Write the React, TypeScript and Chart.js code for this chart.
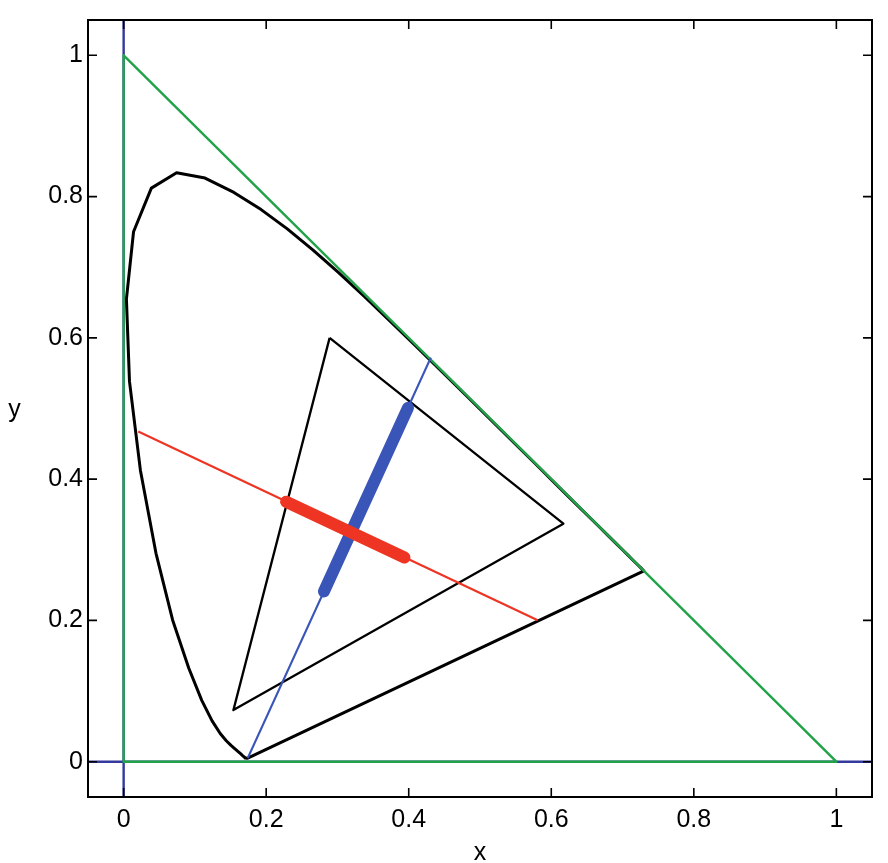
import React, { useEffect, useRef } from "react";
import { Chart, registerables } from "chart.js";

Chart.register(...registerables);

// Axis ticks and range
const TICKS = [0, 0.2, 0.4, 0.6, 0.8, 1];
const AXIS_MIN = -0.05;
const AXIS_MAX = 1.05;

// CIE 1931 spectral locus (380..660 nm, 5 nm steps), closed by the line of purples
const LOCUS_X = [
  0.1741, 0.174, 0.1738, 0.1736, 0.1733, 0.173, 0.1726, 0.1721, 0.1714, 0.1703,
  0.1689, 0.1669, 0.1644, 0.1611, 0.1566, 0.151, 0.144, 0.1355, 0.1241, 0.1096,
  0.0913, 0.0687, 0.0454, 0.0235, 0.0082, 0.0039, 0.0139, 0.0389, 0.0743, 0.1142,
  0.1547, 0.1929, 0.2296, 0.2658, 0.3016, 0.3373, 0.3731, 0.4087, 0.4441, 0.4788,
  0.5125, 0.5448, 0.5752, 0.6029, 0.627, 0.6482, 0.6658, 0.6801, 0.6915, 0.7006,
  0.7079, 0.714, 0.719, 0.723, 0.726, 0.7283, 0.73, 0.1741,
];
const LOCUS_Y = [
  0.005, 0.005, 0.0049, 0.0049, 0.0048, 0.0048, 0.0048, 0.0048, 0.0051, 0.0058,
  0.0069, 0.0086, 0.0109, 0.0138, 0.0177, 0.0227, 0.0297, 0.0399, 0.0578, 0.0868,
  0.1327, 0.2007, 0.295, 0.4127, 0.5384, 0.6548, 0.7502, 0.812, 0.8338, 0.8262,
  0.8059, 0.7816, 0.7543, 0.7243, 0.6923, 0.6589, 0.6245, 0.5896, 0.5547, 0.5202,
  0.4866, 0.4544, 0.4242, 0.3965, 0.3725, 0.3514, 0.334, 0.3197, 0.3083, 0.2993,
  0.292, 0.2859, 0.2809, 0.277, 0.274, 0.2717, 0.27, 0.005,
];

// Green triangle (x + y <= 1)
const GREEN_X = [0, 1, 0, 0];
const GREEN_Y = [0, 0, 1, 0];

// Blue coordinate axes lines
const HAXIS_X = [AXIS_MIN, AXIS_MAX];
const HAXIS_Y = [0, 0];
const VAXIS_X = [0, 0];
const VAXIS_Y = [AXIS_MIN, AXIS_MAX];

// Black gamut triangle
const GAMUT_X = [0.289, 0.617, 0.154, 0.289];
const GAMUT_Y = [0.6, 0.337, 0.073, 0.6];

// Red line and its thick segment
const RED_X = [0.0205, 0.581];
const RED_Y = [0.4675, 0.2003];
const RED_THICK_X = [0.228, 0.394];
const RED_THICK_Y = [0.368, 0.289];

// Blue line and its thick segment
const BLUE_X = [0.1741, 0.431];
const BLUE_Y = [0.005, 0.572];
const BLUE_THICK_X = [0.281, 0.399];
const BLUE_THICK_Y = [0.241, 0.501];

const COLORS = {
  axisBlue: "#34399e",
  green: "#22a34a",
  blue: "#3a55b8",
  red: "#ee3524",
  black: "#000000",
};

const FONT_FAMILY = "'Liberation Sans', Arial, Helvetica, sans-serif";

const pts = (xs: number[], ys: number[]) => xs.map((x, i) => ({ x, y: ys[i] }));

const line = (
  xs: number[],
  ys: number[],
  color: string,
  width: number,
  order: number,
  cap: CanvasLineCap = "butt"
) => ({
  data: pts(xs, ys),
  showLine: true,
  borderColor: color,
  backgroundColor: color,
  borderWidth: width,
  pointRadius: 0,
  pointHoverRadius: 0,
  tension: 0,
  fill: false,
  borderCapStyle: cap,
  borderJoinStyle: "round" as CanvasLineJoin,
  order,
});

const framePlugin = {
  id: "matlabFrame",
  afterDraw(chart: any) {
    const { ctx, chartArea: a, scales } = chart;
    ctx.save();
    ctx.strokeStyle = "#000";
    ctx.lineWidth = 2;
    ctx.strokeRect(a.left, a.top, a.right - a.left, a.bottom - a.top);
    ctx.lineWidth = 1.6;
    const L = 9;
    for (const v of TICKS) {
      const px = scales.x.getPixelForValue(v);
      ctx.beginPath();
      ctx.moveTo(px, a.bottom);
      ctx.lineTo(px, a.bottom - L);
      ctx.moveTo(px, a.top);
      ctx.lineTo(px, a.top + L);
      ctx.stroke();
      const py = scales.y.getPixelForValue(v);
      ctx.beginPath();
      ctx.moveTo(a.left, py);
      ctx.lineTo(a.left + L, py);
      ctx.moveTo(a.right, py);
      ctx.lineTo(a.right - L, py);
      ctx.stroke();
    }
    ctx.fillStyle = "#000";
    ctx.font = `25px ${FONT_FAMILY}`;
    ctx.textAlign = "center";
    ctx.textBaseline = "alphabetic";
    ctx.fillText("x", (a.left + a.right) / 2, chart.height - 3);
    ctx.fillText("y", 14.5, (a.top + a.bottom) / 2 + 8.5);
    ctx.restore();
  },
};

export default function App() {
  const ref = useRef<HTMLCanvasElement | null>(null);

  useEffect(() => {
    if (!ref.current) return;
    const tickFont = { family: FONT_FAMILY, size: 25 };
    const chart = new Chart(ref.current, {
      type: "scatter",
      data: {
        datasets: [
          line(RED_THICK_X, RED_THICK_Y, COLORS.red, 12, 1, "round"),
          line(BLUE_THICK_X, BLUE_THICK_Y, COLORS.blue, 12, 2, "round"),
          line(BLUE_X, BLUE_Y, COLORS.blue, 2.2, 3),
          line(RED_X, RED_Y, COLORS.red, 2.2, 4),
          line(GAMUT_X, GAMUT_Y, COLORS.black, 2.3, 5),
          line(GREEN_X, GREEN_Y, COLORS.green, 2.4, 6),
          line(LOCUS_X, LOCUS_Y, COLORS.black, 3, 7),
          line(HAXIS_X, HAXIS_Y, COLORS.axisBlue, 2.4, 8),
          line(VAXIS_X, VAXIS_Y, COLORS.axisBlue, 2.4, 9),
        ] as any,
      },
      options: {
        animation: false,
        responsive: false,
        events: [],
        layout: { padding: { top: 12, right: 16, left: 0, bottom: 0 } },
        plugins: {
          legend: { display: false },
          tooltip: { enabled: false },
          title: { display: false },
        },
        scales: {
          x: {
            type: "linear",
            min: AXIS_MIN,
            max: AXIS_MAX,
            grid: { display: false, drawTicks: false },
            border: { display: false },
            afterBuildTicks: (s: any) => {
              s.ticks = TICKS.map((v) => ({ value: v }));
            },
            afterFit: (s: any) => {
              s.height = 66;
            },
            ticks: {
              font: tickFont,
              color: "#000",
              padding: 8,
              maxRotation: 0,
              autoSkip: false,
              callback: (v: any) => String(Math.round(Number(v) * 10) / 10),
            },
          },
          y: {
            type: "linear",
            min: AXIS_MIN,
            max: AXIS_MAX,
            grid: { display: false, drawTicks: false },
            border: { display: false },
            afterBuildTicks: (s: any) => {
              s.ticks = TICKS.map((v) => ({ value: v }));
            },
            afterFit: (s: any) => {
              s.width = 88;
            },
            ticks: {
              font: tickFont,
              color: "#000",
              padding: 5,
              autoSkip: false,
              callback: (v: any) => String(Math.round(Number(v) * 10) / 10),
            },
          },
        },
      } as any,
      plugins: [framePlugin],
    });
    return () => chart.destroy();
  }, []);

  return (
    <div style={{ position: "fixed", left: 0, top: 0, width: 888, height: 863, background: "#fff" }}>
      <canvas ref={ref} width={888} height={863} style={{ display: "block" }} />
    </div>
  );
}
